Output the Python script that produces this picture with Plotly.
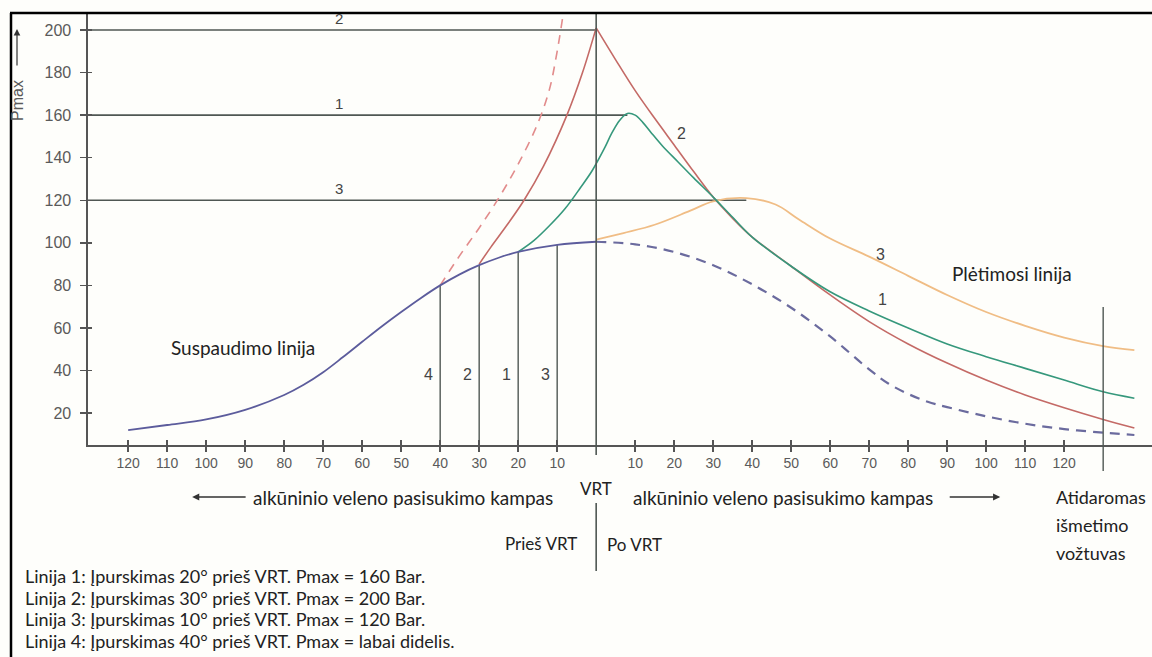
import numpy as np
import plotly.graph_objects as go

# ---------------- data ----------------
# compression line (angle before VRT negative), Pmax in bar
comp_deg = [-120, -110, -100, -90, -80, -75, -70, -65, -60, -55, -50, -45, -40,
            -35, -30, -25, -20, -10, 0]
comp_p = [12, 14.4, 17, 21.5, 28.5, 33.3, 39.2, 46.2, 53.5, 60.7, 67.5, 74, 80,
          85.2, 89.5, 93, 95.7, 99, 100.5]

# motored (no combustion) continuation after VRT, dashed
motor_deg = [0, 10, 20, 30, 40, 50, 60, 70, 75, 80, 85, 90, 100, 110, 120, 130, 138]
motor_p = [100.5, 99.3, 95.7, 89.5, 80.5, 69.5, 56, 40.5, 33.8, 29, 25.3, 22.8,
           18.5, 15, 12.5, 10.8, 9.7]

# line 1: injection 20 deg before VRT
l1_deg = [-20, -16, -12, -8, -4, -1, 2, 4, 6, 8, 10, 12, 14, 17, 21, 25, 30, 35,
          40, 50, 60, 70, 80, 90, 100, 110, 120, 130, 138]
l1_p = [95.7, 101, 108, 116, 126, 134, 144, 151.5, 157.5, 160.8, 160, 156.5, 152,
        145.5, 138, 130.5, 121.5, 112, 102.7, 89, 77, 68, 60, 52.5, 46.5, 41, 35.5,
        30, 27]

# line 2: injection 30 deg before VRT (sharp peak at VRT)
l2_deg = [-30, -27, -23, -18.5, -13.5, -7.5, -3.5, 0, 5, 10, 15, 20, 25, 30, 35,
          40, 50, 60, 70, 80, 90, 100, 110, 120, 130, 138]
l2_p = [90, 98, 108, 120, 136, 160, 180, 201, 186, 171.5, 158.5, 146, 133.5, 121.5,
        111.5, 102.7, 89, 75.5, 63, 52.5, 43.5, 35.5, 28.5, 22.5, 17, 13]
l2_peak_index = 7

# line 3: injection 10 deg before VRT
l3_deg = [0, 7, 15, 24, 30, 38.5, 46, 52, 60, 70, 80, 90, 100, 110, 120, 130, 138]
l3_p = [101.5, 104.6, 108.5, 115, 119.5, 121, 118, 111, 102, 93.5, 84.5, 75.5, 67.5,
        61, 55.5, 51.5, 49.6]

# line 4: injection 40 deg before VRT (very high Pmax), dashed
l4_deg = [-40, -35, -30, -25, -20, -15, -12, -10, -8]
l4_p = [80, 94, 107, 121, 137, 156, 172, 190, 213]

# Pmax levels and the angles where each peak is reached (lines 1, 2, 3)
pmax_names = ["1", "2", "3"]
pmax_levels = [160, 200, 120]
pmax_angles = [8, 0, 38.5]

# injection angles (lines 1..4)
inj_names = ["1", "2", "3", "4"]
inj_deg = [-20, -30, -10, -40]

exhaust_open_deg = 130

y_ticks = [20, 40, 60, 80, 100, 120, 140, 160, 180, 200]
x_ticks = [-120, -110, -100, -90, -80, -70, -60, -50, -40, -30, -20, -10,
           10, 20, 30, 40, 50, 60, 70, 80, 90, 100, 110, 120]
x_tick_text = [str(abs(v)) for v in x_ticks]

legend_lines = [
    "Linija 1: Įpurskimas 20° prieš VRT. Pmax = 160 Bar.",
    "Linija 2: Įpurskimas 30° prieš VRT. Pmax = 200 Bar.",
    "Linija 3: Įpurskimas 10° prieš VRT. Pmax = 120 Bar.",
    "Linija 4: Įpurskimas 40° prieš VRT. Pmax = labai didelis.",
]

# ---------------- layout geometry ----------------
W, H = 1152, 657
ML, MT = 88, 13
PLOT_BOTTOM = 445
MB = H - PLOT_BOTTOM
MR = 0
PW, PH = W - ML - MR, H - MT - MB
X_MIN = -130.3
X_MAX = X_MIN + PW / 3.9
Y_MIN, Y_MAX = 5, 208


def px_x(px):
    return (px - ML) / PW


def px_y(py):
    return (PLOT_BOTTOM - py) / PH


BLUE = "#5c5c9c"
BLUE_D = "#6b6b9e"
RED = "#c46a66"
RED_D = "#e28c8c"
GREEN = "#36987c"
ORANGE = "#f0bd85"
GRAY = "#4f5753"
TXT = "#222222"
NUM = "#5a5a5a"
BG = "#fefefb"
CAL = "Lato, 'Open Sans', sans-serif"
ARIAL = "'Liberation Sans', Arial, sans-serif"

fig = go.Figure()

# horizontal Pmax reference lines
for name, lvl, ang in zip(pmax_names, pmax_levels, pmax_angles):
    fig.add_trace(go.Scatter(x=[X_MIN, ang], y=[lvl, lvl], mode="lines",
                             line=dict(color=GRAY, width=1.6), hoverinfo="skip",
                             showlegend=False))

# vertical injection lines
for name, a in zip(inj_names, inj_deg):
    top = float(np.interp(a, comp_deg, comp_p))
    fig.add_trace(go.Scatter(x=[a, a], y=[Y_MIN, top], mode="lines",
                             line=dict(color=GRAY, width=1.4), hoverinfo="skip",
                             showlegend=False))

# curves
fig.add_trace(go.Scatter(x=l4_deg, y=l4_p, mode="lines", line_shape="spline",
                         line=dict(color=RED_D, width=1.6, dash="9px,7px"),
                         showlegend=False))
fig.add_trace(go.Scatter(x=motor_deg, y=motor_p, mode="lines", line_shape="spline",
                         line=dict(color=BLUE_D, width=2.2, dash="10px,7px"),
                         showlegend=False))
fig.add_trace(go.Scatter(x=l3_deg, y=l3_p, mode="lines", line_shape="spline",
                         line=dict(color=ORANGE, width=1.8), showlegend=False))
fig.add_trace(go.Scatter(x=l2_deg[:l2_peak_index + 1], y=l2_p[:l2_peak_index + 1],
                         mode="lines", line_shape="spline",
                         line=dict(color=RED, width=1.6), showlegend=False))
fig.add_trace(go.Scatter(x=l2_deg[l2_peak_index:], y=l2_p[l2_peak_index:],
                         mode="lines", line_shape="spline",
                         line=dict(color=RED, width=1.6), showlegend=False))
fig.add_trace(go.Scatter(x=l1_deg, y=l1_p, mode="lines", line_shape="spline",
                         line=dict(color=GREEN, width=1.6), showlegend=False))
fig.add_trace(go.Scatter(x=comp_deg, y=comp_p, mode="lines", line_shape="spline",
                         line=dict(color=BLUE, width=1.8), showlegend=False))

# invisible trace for the overlay (inside ticks) axes
fig.add_trace(go.Scatter(x=[X_MIN], y=[Y_MIN], xaxis="x2", yaxis="y2", mode="markers",
                         marker=dict(opacity=0), hoverinfo="skip", showlegend=False))

ann = []
# labels on horizontal lines
for name, lvl in zip(pmax_names, pmax_levels):
    ann.append(dict(x=-66, y=lvl, xref="x", yref="y", text=name, showarrow=False,
                    yanchor="bottom", yshift=1,
                    font=dict(family=ARIAL, size=15, color="#444")))
# labels next to injection lines
for name, a in zip(inj_names, inj_deg):
    ann.append(dict(x=a, y=38, xref="x", yref="y", text=name, showarrow=False,
                    xanchor="right", xshift=-5,
                    font=dict(family=ARIAL, size=16, color="#444")))
# labels on curves
for t, xx, yy in [("2", 22, 151.6), ("1", 73.3, 73.6), ("3", 72.8, 94.7)]:
    ann.append(dict(x=xx, y=yy, xref="x", yref="y", text=t, showarrow=False,
                    font=dict(family=ARIAL, size=16, color="#444")))

ann.append(dict(x=-90.5, y=51, xref="x", yref="y", text="Suspaudimo linija",
                showarrow=False, font=dict(family=CAL, size=19, color=TXT)))
ann.append(dict(x=106.7, y=85.8, xref="x", yref="y", text="Plėtimosi linija",
                showarrow=False, font=dict(family=CAL, size=19, color=TXT)))

# y axis title with arrow
ann.append(dict(x=px_x(17), y=px_y(101), xref="paper", yref="paper", text="Pmax",
                textangle=-90, showarrow=False, xanchor="center", yanchor="middle",
                font=dict(family=ARIAL, size=16, color=NUM)))
ann.append(dict(x=px_x(17), y=px_y(29), xref="paper", yref="paper", text="",
                showarrow=True, ax=0, ay=38, arrowhead=2, arrowsize=1.1,
                arrowwidth=1.2, arrowcolor="#333", standoff=0))

# texts below the axis
ann.append(dict(x=0, y=px_y(488), xref="x", yref="paper", text="VRT", showarrow=False,
                xanchor="center", yanchor="middle",
                font=dict(family=CAL, size=17, color=TXT)))
ann.append(dict(x=-49.5, y=px_y(497), xref="x", yref="paper",
                text="alkūninio veleno pasisukimo kampas", showarrow=False,
                xanchor="center", yanchor="middle",
                font=dict(family=CAL, size=19, color=TXT)))
ann.append(dict(x=48, y=px_y(497), xref="x", yref="paper",
                text="alkūninio veleno pasisukimo kampas", showarrow=False,
                xanchor="center", yanchor="middle",
                font=dict(family=CAL, size=19, color=TXT)))
ann.append(dict(x=-103.6, y=px_y(497), xref="x", yref="paper", text="",
                showarrow=True, ax=55, ay=0, arrowhead=2, arrowsize=1.1,
                arrowwidth=1.3, arrowcolor="#333", standoff=0))
ann.append(dict(x=103.6, y=px_y(497), xref="x", yref="paper", text="",
                showarrow=True, ax=-52, ay=0, arrowhead=2, arrowsize=1.1,
                arrowwidth=1.3, arrowcolor="#333", standoff=0))
ann.append(dict(x=0, y=px_y(543), xref="x", yref="paper", text="Prieš VRT",
                showarrow=False, xanchor="right", yanchor="middle", xshift=-17,
                font=dict(family=CAL, size=17, color=TXT)))
ann.append(dict(x=0, y=px_y(544), xref="x", yref="paper", text="Po VRT",
                showarrow=False, xanchor="left", yanchor="middle", xshift=9,
                font=dict(family=CAL, size=17, color=TXT)))
for i, t in enumerate(["Atidaromas", "išmetimo", "vožtuvas"]):
    ann.append(dict(x=px_x(1054), y=px_y(497 + 28 * i), xref="paper", yref="paper",
                    text=t, showarrow=False, xanchor="left", yanchor="middle",
                    font=dict(family=CAL, size=18, color=TXT)))
for i, t in enumerate(legend_lines):
    ann.append(dict(x=px_x(23), y=px_y(576 + 21.7 * i), xref="paper", yref="paper",
                    text=t, showarrow=False, xanchor="left", yanchor="middle",
                    font=dict(family=CAL, size=18, color=TXT)))

shapes = [
    # VRT line
    dict(type="line", xref="x", yref="paper", x0=0, x1=0, y0=px_y(455), y1=1,
         line=dict(color=GRAY, width=1.6)),
    dict(type="line", xref="x", yref="paper", x0=0, x1=0, y0=px_y(571), y1=px_y(503),
         line=dict(color=GRAY, width=1.6)),
    # exhaust valve opening
    dict(type="line", xref="x", yref="paper", x0=exhaust_open_deg, x1=exhaust_open_deg,
         y0=px_y(471), y1=px_y(307), line=dict(color=GRAY, width=1.4)),
    # outer frame
    dict(type="line", xref="paper", yref="paper", x0=px_x(11), x1=px_x(11),
         y0=px_y(657), y1=px_y(13), line=dict(color="black", width=2.5)),
    dict(type="line", xref="paper", yref="paper", x0=px_x(10), x1=1,
         y0=px_y(13), y1=px_y(13), line=dict(color="black", width=2.5)),
]

axis_common = dict(showgrid=False, zeroline=False)
fig.update_layout(
    width=W, height=H,
    margin=dict(l=ML, r=MR, t=MT, b=MB, pad=0),
    paper_bgcolor=BG, plot_bgcolor=BG,
    showlegend=False,
    hovermode=False,
    xaxis=dict(range=[X_MIN, X_MAX], tickvals=x_ticks, ticktext=x_tick_text,
               ticks="outside", ticklen=5, tickwidth=1.4, tickcolor="#555",
               showline=True, linecolor="#555", linewidth=1.6,
               tickfont=dict(family=ARIAL, size=14, color=NUM),
               ticklabelstandoff=0, **axis_common),
    yaxis=dict(range=[Y_MIN, Y_MAX], tickvals=y_ticks,
               ticks="outside", ticklen=6, tickwidth=1.4, tickcolor="#555",
               showline=True, linecolor="#555", linewidth=1.6,
               tickfont=dict(family=ARIAL, size=16, color=NUM),
               ticklabelstandoff=6, **axis_common),
    xaxis2=dict(range=[X_MIN, X_MAX], overlaying="x", anchor="y", tickvals=x_ticks,
                ticks="inside", ticklen=5, tickwidth=1.4, tickcolor="#555",
                showticklabels=False, showline=False, **axis_common),
    yaxis2=dict(range=[Y_MIN, Y_MAX], overlaying="y", anchor="x", tickvals=y_ticks,
                ticks="inside", ticklen=4, tickwidth=1.4, tickcolor="#555",
                showticklabels=False, showline=False, **axis_common),
    annotations=ann,
    shapes=shapes,
)

# remove the default page margin so the figure fills the 1152x657 window exactly
fig.write_html("out.html",
               config={"displayModeBar": False, "staticPlot": True},
               post_script="document.body.style.margin='0';"
                           "document.body.style.overflow='hidden';")
